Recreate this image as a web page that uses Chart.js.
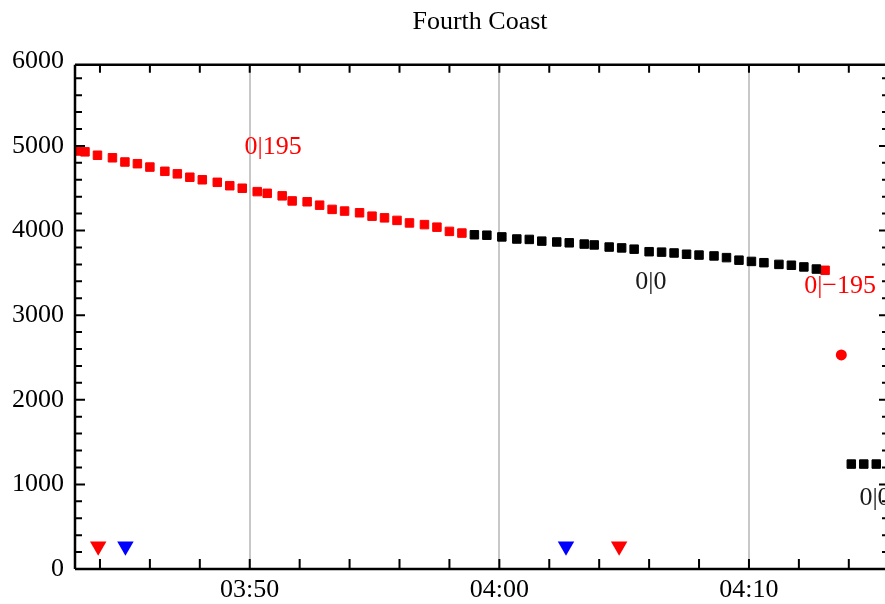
<!DOCTYPE html>
<html>
<head>
<meta charset="utf-8">
<script src="https://cdn.jsdelivr.net/npm/chart.js@4.4.1/dist/chart.umd.min.js"></script>
<style>
  html, body { margin: 0; padding: 0; background: #fff; }
  canvas { display: block; }
</style>
</head>
<body>
<canvas id="coastChart" width="885" height="604"></canvas>
<script>
// time in minutes after 03:00
const redTimes = [43.1, 43.4, 43.9, 44.5, 45.0, 45.5, 46.0, 46.6, 47.1, 47.6, 48.1, 48.7, 49.2, 49.7, 50.3, 50.7,
  51.3, 51.7, 52.3, 52.8, 53.3, 53.8, 54.4, 54.9, 55.4, 55.9, 56.4, 57.0, 57.5, 58.0, 58.5];
const redValues = [4940, 4930, 4890, 4860, 4810, 4790, 4750, 4700, 4670, 4630, 4600, 4570, 4530, 4500, 4460, 4440,
  4410, 4350, 4340, 4300, 4250, 4230, 4210, 4170, 4150, 4120, 4090, 4070, 4040, 3990, 3970];

const blackTimes = [59.0, 59.5, 60.1, 60.7, 61.2, 61.7, 62.3, 62.8, 63.4, 63.8, 64.4, 64.9, 65.4, 66.0,
  66.5, 67.0, 67.5, 68.0, 68.6, 69.1, 69.6, 70.1, 70.6, 71.2, 71.7, 72.2, 72.7];
const blackValues = [3950, 3945, 3925, 3900, 3895, 3875, 3865, 3855, 3840, 3830, 3805, 3795, 3780, 3750,
  3745, 3735, 3720, 3710, 3700, 3680, 3650, 3635, 3620, 3600, 3590, 3570, 3545];

const redEndTimes = [73.05];
const redEndValues = [3530];
const dropTimes = [73.7];
const dropValues = [2530];
const lowTimes = [74.1, 74.6, 75.1];
const lowValues = [1240, 1240, 1240];

const redMarkTimes = [43.93, 64.8];
const blueMarkTimes = [45.02, 62.67];
const markValue = 270;

const noteTimes = [50.94, 66.07, 73.65, 75.05];
const noteValues = [4990, 3390, 3340, 840];
const noteTexts = ['0|195', '0|0', '0|\u2212195', '0|0'];
const noteColors = ['#ff0000', '#1a1a1a', '#ff0000', '#1a1a1a'];

const xTickTimes = [50, 60, 70];
const xTickLabels = ['03:50', '04:00', '04:10'];
const yTickValues = [0, 1000, 2000, 3000, 4000, 5000, 6000];

const serif = "'Liberation Serif', 'DejaVu Serif', serif";

const pts = (xs, ys) => xs.map((x, i) => ({ x: x, y: ys[i] }));

// frame with inward ticks, like the original plot
const framePlugin = {
  id: 'frame',
  afterDatasetsDraw: (chart) => {
    const ctx = chart.ctx;
    const a = chart.chartArea;
    const xs = chart.scales.x;
    const ys = chart.scales.y;
    const right = a.right + 4;
    ctx.save();
    ctx.strokeStyle = '#000';
    ctx.lineWidth = 2.5;
    ctx.beginPath();
    ctx.moveTo(a.left, a.top); ctx.lineTo(right, a.top);
    ctx.moveTo(a.left, a.bottom); ctx.lineTo(right, a.bottom);
    ctx.moveTo(a.left, a.top); ctx.lineTo(a.left, a.bottom);
    ctx.moveTo(right, a.top); ctx.lineTo(right, a.bottom);
    ctx.stroke();

    ctx.lineWidth = 2;
    ctx.beginPath();
    for (let m = 44; m <= 75; m += 2) {
      const px = xs.getPixelForValue(m);
      ctx.moveTo(px, a.bottom); ctx.lineTo(px, a.bottom - 10);
      ctx.moveTo(px, a.top); ctx.lineTo(px, a.top + 8);
    }
    for (let v = 200; v < 6000; v += 200) {
      const py = ys.getPixelForValue(v);
      const len = v % 1000 === 0 ? 10 : 7;
      ctx.moveTo(a.left, py); ctx.lineTo(a.left + len, py);
      ctx.moveTo(right, py); ctx.lineTo(right - len, py);
    }
    ctx.stroke();

    // value notes
    ctx.font = '26px ' + serif;
    ctx.textAlign = 'center';
    ctx.textBaseline = 'middle';
    noteTexts.forEach((t, i) => {
      ctx.fillStyle = noteColors[i];
      ctx.fillText(t, xs.getPixelForValue(noteTimes[i]), ys.getPixelForValue(noteValues[i]));
    });
    ctx.restore();
  }
};

const squareSet = (data, color) => ({
  data: data,
  pointStyle: 'rect',
  pointRadius: 6,
  pointBorderWidth: 1,
  backgroundColor: color,
  borderColor: color,
  showLine: false
});

const triSet = (data, color) => ({
  data: data,
  pointStyle: 'triangle',
  rotation: 180,
  pointRadius: 9.5,
  pointBorderWidth: 0,
  backgroundColor: color,
  borderColor: color,
  showLine: false
});

new Chart(document.getElementById('coastChart').getContext('2d'), {
  type: 'scatter',
  data: {
    datasets: [
      squareSet(pts(redTimes, redValues), '#ff0000'),
      squareSet(pts(blackTimes, blackValues), '#000000'),
      squareSet(pts(redEndTimes, redEndValues), '#ff0000'),
      {
        data: pts(dropTimes, dropValues),
        pointStyle: 'circle',
        pointRadius: 5.5,
        pointBorderWidth: 0,
        backgroundColor: '#ff0000',
        showLine: false
      },
      squareSet(pts(lowTimes, lowValues), '#000000'),
      triSet(redMarkTimes.map(t => ({ x: t, y: markValue })), '#ff0000'),
      triSet(blueMarkTimes.map(t => ({ x: t, y: markValue })), '#0000ff')
    ]
  },
  options: {
    responsive: false,
    animation: false,
    layout: { padding: 0, autoPadding: false },
    plugins: {
      legend: { display: false },
      tooltip: { enabled: false },
      title: {
        display: true,
        text: 'Fourth Coast',
        fullSize: false,
        color: '#000',
        font: { family: serif, size: 26, weight: 'normal' },
        padding: { top: 7, bottom: 26.5 }
      }
    },
    scales: {
      x: {
        type: 'linear',
        min: 43,
        max: 75.45,
        border: { display: false },
        grid: {
          color: '#c8c8c8',
          lineWidth: 2,
          drawTicks: false
        },
        afterBuildTicks: (scale) => {
          scale.ticks = xTickTimes.map(v => ({ value: v }));
        },
        afterFit: (scale) => { scale.height = 35; },
        ticks: {
          autoSkip: false,
          maxRotation: 0,
          padding: 6,
          color: '#000',
          font: { family: serif, size: 26 },
          callback: (value) => xTickLabels[xTickTimes.indexOf(value)]
        }
      },
      y: {
        type: 'linear',
        min: 0,
        max: 5960,
        border: { display: false },
        grid: { display: false, drawTicks: false },
        afterBuildTicks: (scale) => {
          scale.ticks = yTickValues.map(v => ({ value: v }));
        },
        afterFit: (scale) => { scale.width = 75; },
        ticks: {
          autoSkip: false,
          padding: 11,
          color: '#000',
          font: { family: serif, size: 26 },
          callback: (value) => String(value)
        }
      }
    }
  },
  plugins: [framePlugin]
});
</script>
</body>
</html>
